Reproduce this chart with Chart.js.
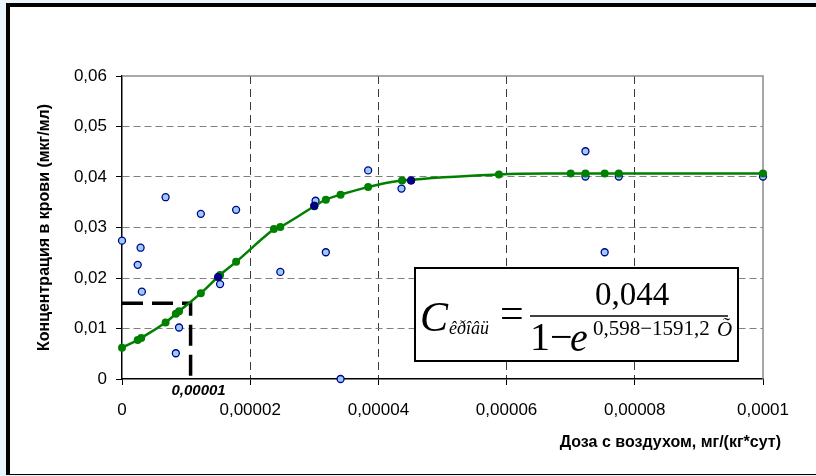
<!DOCTYPE html>
<html>
<head>
<meta charset="utf-8">
<script src="https://cdn.jsdelivr.net/npm/chart.js@4.4.1/dist/chart.umd.min.js"></script>
<style>
  html, body { margin: 0; padding: 0; background: #eaf4fd; }
  canvas { display: block; }
</style>
</head>
<body>
<canvas id="doseChart" width="816" height="476"></canvas>
<script>
// measured points (light blue)
const measX = [0, 0.0000029, 0.00000245, 0.0000031, 0.0000068, 0.0000084, 0.0000089, 0.0000123, 0.0000153, 0.0000178,
               0.0000247, 0.0000302, 0.0000318, 0.0000341, 0.0000384, 0.0000436, 0.0000723, 0.0000723, 0.0000753, 0.0000775, 0.0001];
const measY = [0.0274, 0.0260, 0.0226, 0.0173, 0.0360, 0.0051, 0.0102, 0.0327, 0.0188, 0.0335,
               0.0212, 0.0353, 0.0251, 0, 0.0413, 0.0377, 0.0451, 0.0401, 0.0251, 0.0401, 0.0401];

// highlighted points (dark blue)
const markX = [0.000015, 0.00003, 0.0000451];
const markY = [0.0202, 0.0343, 0.0393];

// fitted curve (green)
const fitX = [0, 0.00000245, 0.000003, 0.0000068, 0.0000084, 0.0000089, 0.0000123, 0.0000153, 0.0000178, 0.0000237, 0.0000247,
              0.00003, 0.0000318, 0.0000341, 0.0000384, 0.0000437, 0.0000588, 0.00007, 0.0000723, 0.0000753, 0.0000775, 0.0001];
const fitY = [0.0062, 0.0077, 0.0081, 0.0112, 0.0129, 0.0134, 0.0170, 0.0206, 0.0232, 0.0297, 0.0301,
              0.0342, 0.0355, 0.0365, 0.0380, 0.0393, 0.0405, 0.0407, 0.0407, 0.0407, 0.0407, 0.0407];

// dashed guide to the reference dose
const guideX = [0, 0.0000107, 0.0000107];
const guideY = [0.015, 0.015, 0];
const guideLabel = '0,00001';

const xTicks = [0, 0.00002, 0.00004, 0.00006, 0.00008, 0.0001];
const xTickLabels = ['0', '0,00002', '0,00004', '0,00006', '0,00008', '0,0001'];
const yTicks = [0, 0.01, 0.02, 0.03, 0.04, 0.05, 0.06];
const yTickLabels = ['0', '0,01', '0,02', '0,03', '0,04', '0,05', '0,06'];

const xTitle = 'Доза с воздухом, мг/(кг*сут)';
const yTitle = 'Концентрация в крови (мкг/мл)';

const toPts = (xs, ys) => xs.map((x, i) => ({ x: x, y: ys[i] }));
const SANS = '"Liberation Sans", Arial, sans-serif';
const SERIF = '"Liberation Serif", "Times New Roman", serif';

// frame around the picture + plot border
const framePlugin = {
    id: 'frame',
    beforeDraw(chart) {
        const c = chart.ctx;
        c.save();
        c.fillStyle = '#eaf4fd';
        c.fillRect(0, 0, 816, 476);
        c.fillStyle = '#000';
        c.fillRect(6, 3, 810, 472);
        c.fillStyle = '#fff';
        c.fillRect(10, 7, 806, 467);
        c.restore();
    },
    beforeDatasetsDraw(chart) {
        const a = chart.chartArea, c = chart.ctx;
        c.save();
        c.strokeStyle = '#8c8c8c';
        c.lineWidth = 1.5;
        c.beginPath();
        c.moveTo(a.left, a.top);
        c.lineTo(a.right, a.top);
        c.lineTo(a.right, a.bottom);
        c.stroke();
        c.restore();
    },
    afterDraw(chart) {
        const c = chart.ctx;
        const xs = chart.scales.x;
        c.save();
        // axis title (right aligned)
        c.fillStyle = '#000';
        c.font = 'bold 16px ' + SANS;
        c.textAlign = 'right';
        c.textBaseline = 'middle';
        c.fillText(xTitle, 781, 443);
        // reference dose label
        c.font = 'italic bold 15px ' + SANS;
        c.textAlign = 'center';
        c.fillText(guideLabel, xs.getPixelForValue(guideX[1]) + 8, 391);

        // formula box
        c.fillStyle = '#fff';
        c.fillRect(415, 268, 323, 93);
        c.strokeStyle = '#000';
        c.lineWidth = 2;
        c.strokeRect(415, 268, 323, 93);
        c.fillStyle = '#000';
        c.textAlign = 'left';
        c.textBaseline = 'alphabetic';
        c.font = 'italic 42px ' + SERIF;
        c.fillText('C', 420, 331);
        c.font = 'italic 18px ' + SERIF;
        c.fillText('êðîâü', 449, 334);
        c.font = '42px ' + SERIF;
        c.fillText('=', 500, 327);
        c.font = '33px ' + SERIF;
        c.textAlign = 'center';
        c.fillText('0,044', 632, 305);
        c.lineWidth = 1.5;
        c.beginPath();
        c.moveTo(530, 316);
        c.lineTo(728, 316);
        c.stroke();
        c.textAlign = 'left';
        c.font = '40px ' + SERIF;
        c.fillText('1\u2212', 530, 350);
        c.font = 'italic 40px ' + SERIF;
        c.fillText('e', 570, 351);
        c.font = '21px ' + SERIF;
        c.fillText('0,598\u22121591,2', 593, 335);
        c.font = 'italic 21px ' + SERIF;
        c.fillText('Õ', 717, 336);
        c.restore();
    }
};

new Chart(document.getElementById('doseChart'), {
    type: 'scatter',
    data: {
        datasets: [{
            label: 'guide',
            data: toPts(guideX, guideY),
            showLine: true,
            borderColor: '#000',
            borderWidth: 3.5,
            borderDash: [21, 9],
            pointRadius: 0,
            order: 4,
            clip: false
        }, {
            label: 'measured',
            data: toPts(measX, measY),
            pointRadius: 3.5,
            pointBackgroundColor: '#99ccff',
            pointBorderColor: '#000080',
            pointBorderWidth: 1.3,
            order: 3,
            clip: false
        }, {
            label: 'fit',
            data: toPts(fitX, fitY),
            showLine: true,
            tension: 0.4,
            borderColor: '#008000',
            borderWidth: 2.5,
            pointRadius: 4,
            pointBackgroundColor: '#008000',
            pointBorderColor: '#008000',
            pointBorderWidth: 0,
            order: 2,
            clip: false
        }, {
            label: 'marked',
            data: toPts(markX, markY),
            pointRadius: 3.8,
            pointBackgroundColor: '#000080',
            pointBorderColor: '#000080',
            order: 1,
            clip: false
        }]
    },
    options: {
        responsive: false,
        animation: false,
        devicePixelRatio: 1,
        layout: { padding: { top: 76, left: 0, right: 53, bottom: 0 } },
        plugins: {
            legend: { display: false },
            tooltip: { enabled: false }
        },
        scales: {
            x: {
                type: 'linear',
                min: 0,
                max: 0.0001,
                afterBuildTicks: (s) => { s.ticks = xTicks.map(v => ({ value: v })); },
                afterFit: (s) => { s.height = 97; },
                ticks: {
                    callback: (v, i) => xTickLabels[i],
                    color: '#000',
                    font: { family: SANS, size: 17 },
                    padding: 15,
                    maxRotation: 0,
                    autoSkip: false
                },
                grid: {
                    color: (ctx) => (ctx.index === 0 || ctx.index === xTicks.length - 1) ? 'rgba(0,0,0,0)' : '#3a3a3a',
                    lineWidth: 1,
                    tickLength: 6,
                    tickColor: '#000'
                },
                border: { display: true, color: '#000', width: 1.5, dash: [8, 5] }
            },
            y: {
                type: 'linear',
                min: 0,
                max: 0.06,
                afterBuildTicks: (s) => { s.ticks = yTicks.map(v => ({ value: v })); },
                afterFit: (s) => { s.width = 122; },
                ticks: {
                    callback: (v, i) => yTickLabels[i],
                    color: '#000',
                    font: { family: SANS, size: 17 },
                    padding: 9
                },
                grid: {
                    color: (ctx) => (ctx.index === 0 || ctx.index === yTicks.length - 1) ? 'rgba(0,0,0,0)' : '#808080',
                    lineWidth: 1,
                    tickLength: 6,
                    tickColor: '#000'
                },
                border: { display: true, color: '#000', width: 1.5, dash: [7, 4] },
                title: {
                    display: true,
                    text: yTitle,
                    color: '#000',
                    font: { family: SANS, size: 16, weight: 'bold' },
                    padding: { top: 35, bottom: 0 }
                }
            }
        }
    },
    plugins: [framePlugin]
});
</script>
</body>
</html>
